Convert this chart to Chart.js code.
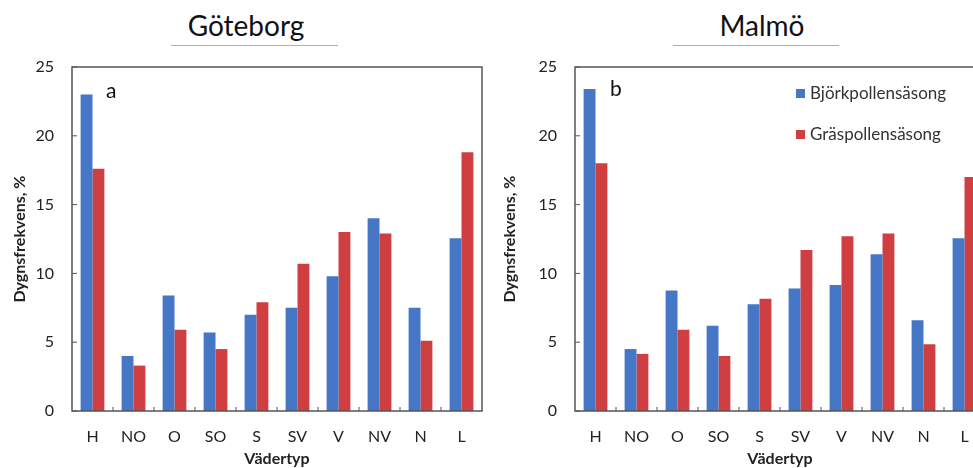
<!DOCTYPE html>
<html>
<head>
<meta charset="utf-8">
<script src="https://cdn.jsdelivr.net/npm/chart.js@4.4.1/dist/chart.umd.min.js"></script>
<style>
  html, body { margin:0; padding:0; width:973px; height:468px; overflow:hidden; background:#fff; font-family: Lato, "Open Sans", sans-serif; }
  .wrap { position:absolute; top:0; }
  canvas { display:block; }
  .title { position:absolute; font-size:28px; color:#111; text-align:center; top:8px; line-height:34px; }
  .uline { position:absolute; height:1px; background:#b0b0b0; top:45px; }
  .letter { position:absolute; font-size:21px; color:#111; }
  .leg { position:absolute; font-size:17px; color:#333; line-height:20px; }
  .leg span { display:inline-block; width:9px; height:9px; margin-right:5px; vertical-align:1px; }
</style>
</head>
<body>
<div class="title" style="left:146px;width:200px;">Göteborg</div>
<div class="uline" style="left:171px;width:167px;"></div>
<div class="title" style="left:662px;width:200px;">Malmö</div>
<div class="uline" style="left:673px;width:166px;"></div>

<div class="wrap" style="left:0;width:490px;height:468px;"><canvas id="c1" width="490" height="468"></canvas></div>
<div class="wrap" style="left:490px;width:505px;height:468px;"><canvas id="c2" width="505" height="468"></canvas></div>

<div class="letter" style="left:106px;top:77px;">a</div>
<div class="letter" style="left:610px;top:75px;">b</div>
<div class="leg" style="left:796px;top:83px;"><span style="background:#4577c6"></span>Björkpollensäsong</div>
<div class="leg" style="left:796px;top:124px;"><span style="background:#cf3f42"></span>Gräspollensäsong</div>

<script>
const categories = ["H","NO","O","SO","S","SV","V","NV","N","L"];
const goteborgBjork = [23.0, 4.0, 8.4, 5.7, 7.0, 7.5, 9.8, 14.0, 7.5, 12.55];
const goteborgGras  = [17.6, 3.3, 5.9, 4.5, 7.9, 10.7, 13.0, 12.9, 5.1, 18.8];
const malmoBjork    = [23.4, 4.5, 8.75, 6.2, 7.75, 8.9, 9.15, 11.4, 6.6, 12.55];
const malmoGras     = [18.0, 4.15, 5.9, 4.0, 8.15, 11.7, 12.7, 12.9, 4.85, 17.0];
const yTicks = [0, 5, 10, 15, 20, 25];
const seriesNames = ["Björkpollensäsong", "Gräspollensäsong"];

const BLUE = '#4577c6', RED = '#cf3f42';
const FONT = 'Lato, "Open Sans", sans-serif';

const frame = {
  id: 'frame',
  afterDatasetsDraw(chart) {
    const {ctx, chartArea: a, scales} = chart;
    ctx.save();
    ctx.strokeStyle = '#555';
    ctx.lineWidth = 1.5;
    ctx.strokeRect(a.left, a.top, a.right - a.left, a.bottom - a.top);
    ctx.lineWidth = 1;
    yTicks.forEach(v => {
      const y = scales.y.getPixelForValue(v);
      ctx.beginPath(); ctx.moveTo(a.left, y); ctx.lineTo(a.left + 5, y); ctx.stroke();
    });
    const n = categories.length;
    const w = (a.right - a.left) / n;
    for (let i = 1; i < n; i++) {
      const x = a.left + i * w;
      ctx.beginPath(); ctx.moveTo(x, a.bottom); ctx.lineTo(x, a.bottom - 4); ctx.stroke();
    }
    ctx.restore();
  }
};

function makeChart(id, d1, d2, yWidth, padRight) {
  return new Chart(document.getElementById(id), {
    type: 'bar',
    data: {
      labels: categories,
      datasets: [
        { label: seriesNames[0], data: d1, backgroundColor: BLUE, borderWidth: 0 },
        { label: seriesNames[1], data: d2, backgroundColor: RED, borderWidth: 0 }
      ]
    },
    options: {
      responsive: false,
      animation: false,
      events: [],
      categoryPercentage: 0.58,
      barPercentage: 1.0,
      layout: { padding: { top: 67, right: padRight, left: 0, bottom: 0 } },
      plugins: { legend: { display: false }, tooltip: { enabled: false } },
      scales: {
        x: {
          grid: { display: false, drawTicks: false },
          border: { display: false },
          ticks: { color: '#222', font: { family: FONT, size: 16 }, padding: 16, maxRotation: 0 },
          title: { display: true, text: 'Vädertyp', color: '#222', font: { family: FONT, size: 16, weight: 'bold' }, padding: { top: 0, bottom: 0 } },
          afterFit(s) { s.height = 57; }
        },
        y: {
          min: 0, max: 25,
          afterBuildTicks(s) { s.ticks = yTicks.map(v => ({ value: v })); },
          grid: { display: false, drawTicks: false },
          border: { display: false },
          ticks: { color: '#222', font: { family: FONT, size: 16 }, padding: 18 },
          title: { display: true, text: 'Dygnsfrekvens, %', color: '#222', font: { family: FONT, size: 16, weight: 'bold' }, padding: { top: 10, bottom: 0 } },
          afterFit(s) { s.width = yWidth; }
        }
      }
    },
    plugins: [frame]
  });
}

makeChart('c1', goteborgBjork, goteborgGras, 72, 8);
makeChart('c2', malmoBjork, malmoGras, 85, 10);
</script>
</body>
</html>
